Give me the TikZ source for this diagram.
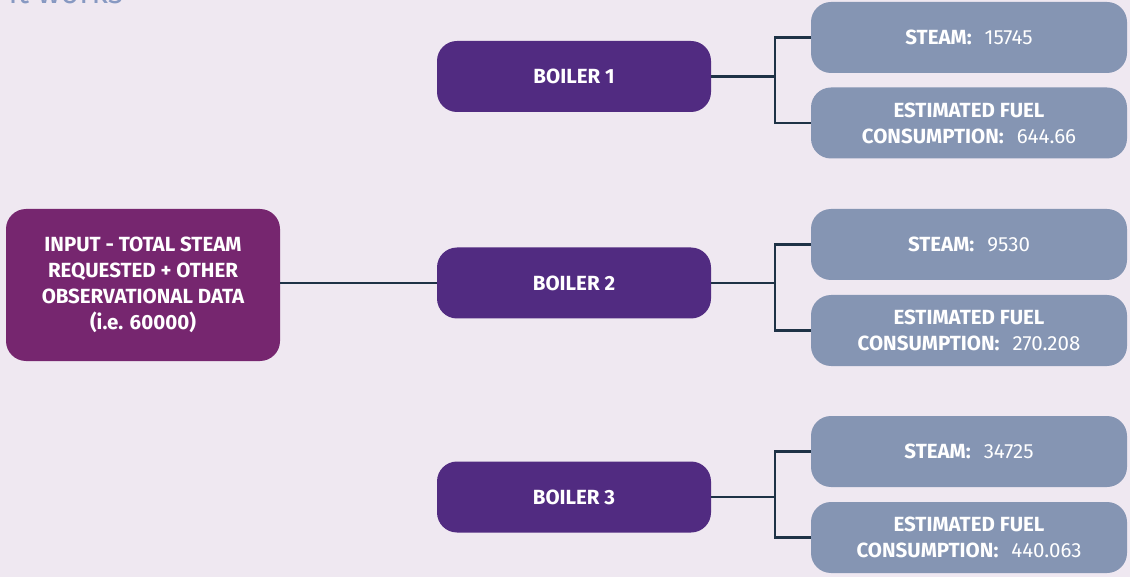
\documentclass[tikz,border=0pt]{standalone}
\usepackage{fontspec}
\setmainfont{Fira Sans}
\newcommand{\valgap}{\hspace{13pt}}
\begin{document}
\begin{tikzpicture}[x=1pt,y=-1pt,
  box/.style={rounded corners=20pt, text=white, align=center, inner sep=0pt,
    font=\fontsize{20.5}{26}\selectfont\bfseries},
  inbox/.style={box, fill=inputcol, minimum width=274pt, minimum height=152pt},
  boilerbox/.style={box, fill=boilercol, minimum width=274pt, minimum height=71pt},
  outbox/.style={box, fill=outcol, minimum width=316pt, minimum height=71pt},
  link/.style={draw=linkcol, line width=2.5pt}
]
\definecolor{bgcol}{HTML}{EFE8F1}
\definecolor{inputcol}{HTML}{76266F}
\definecolor{boilercol}{HTML}{512B81}
\definecolor{outcol}{HTML}{8595B3}
\definecolor{linkcol}{HTML}{1E3246}
\definecolor{titlecol}{HTML}{8799C2}

\fill[bgcol] (0,0) rectangle (1130,577);
\useasboundingbox (0,0) rectangle (1130,577);

% heading, running off the top edge
\begin{scope}
\clip (0,0) rectangle (1130,577);
\node[anchor=base east, text=titlecol, font=\fontsize{32}{32}\selectfont, inner sep=0pt] (title) at (123,4) {How it works};
\end{scope}

% input
\node[inbox] (input) at (143,285) {INPUT - TOTAL STEAM\\REQUESTED + OTHER\\OBSERVATIONAL DATA\\(i.e. 60000)};

% boilers
\node[boilerbox] (b1) at (574,76.5) {BOILER 1};
\node[boilerbox] (b2) at (574,283) {BOILER 2};
\node[boilerbox] (b3) at (574,497) {BOILER 3};

% outputs
\node[outbox] (s1) at (969,37.5) {STEAM:\valgap{\mdseries 15745}};
\node[outbox] (f1) at (969,123) {ESTIMATED FUEL\\CONSUMPTION:\valgap{\mdseries 644.66}};
\node[outbox] (s2) at (969,244.5) {STEAM:\valgap{\mdseries 9530}};
\node[outbox] (f2) at (969,330.5) {ESTIMATED FUEL\\CONSUMPTION:\valgap{\mdseries 270.208}};
\node[outbox] (s3) at (969,451.5) {STEAM:\valgap{\mdseries 34725}};
\node[outbox] (f3) at (969,537.5) {ESTIMATED FUEL\\CONSUMPTION:\valgap{\mdseries 440.063}};

% connectors
\draw[link] (input.east |- b2.west) -- (b2.west);
\foreach \b/\s/\f in {b1/s1/f1, b2/s2/f2, b3/s3/f3}{
  \coordinate (\b j) at ([xshift=64pt]\b.east);
  \draw[link] (\b.east) -- (\b j);
  \draw[link] (\s.west) -| (\b j) |- (\f.west);
}
\end{tikzpicture}
\end{document}
